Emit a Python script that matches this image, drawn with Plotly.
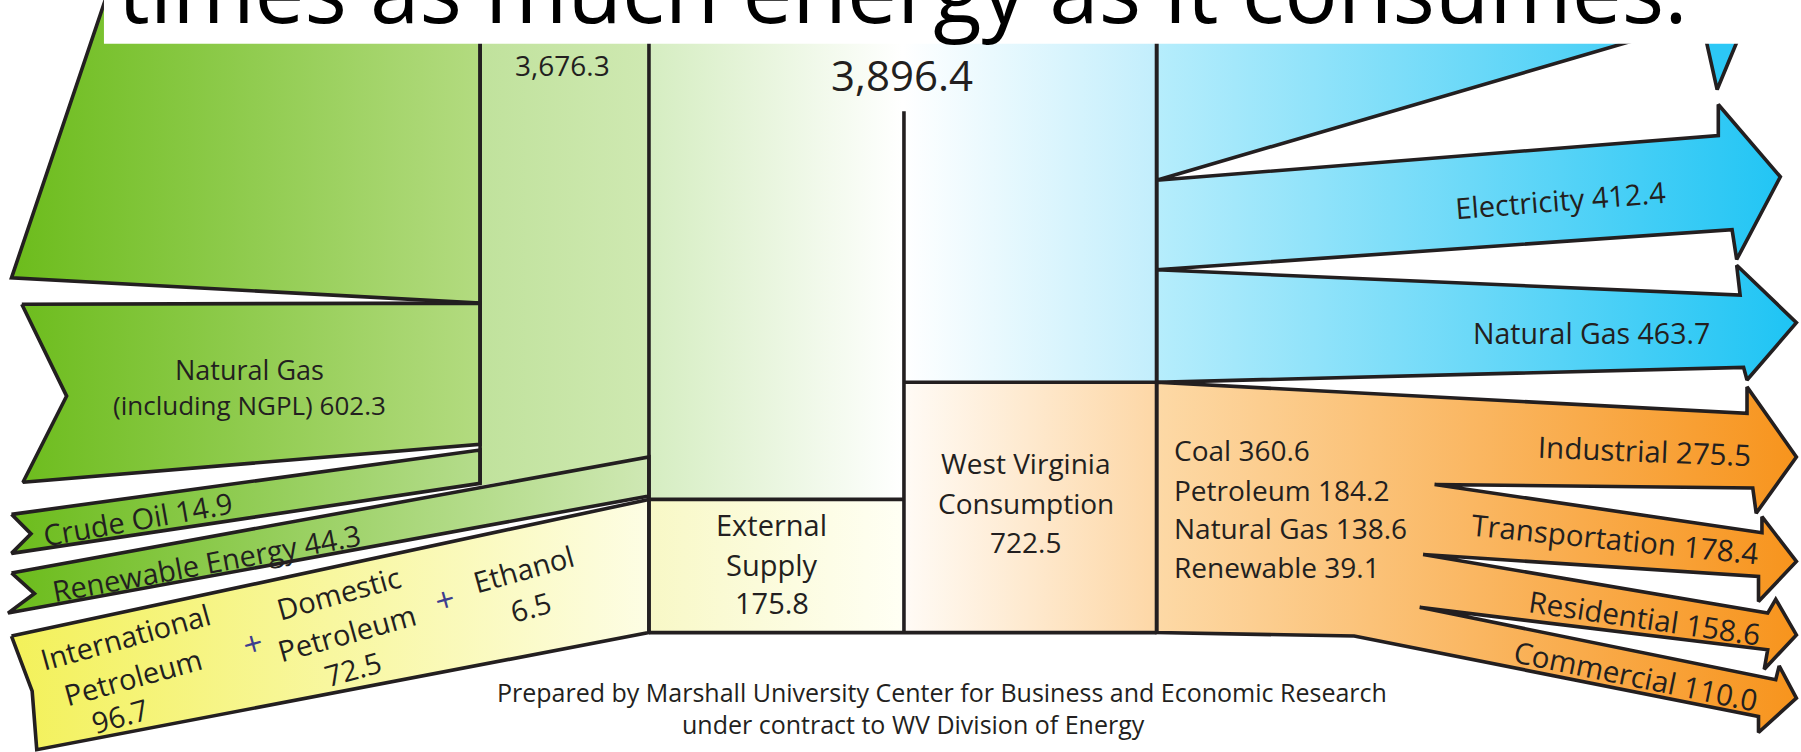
import plotly.graph_objects as go

# ---------------- data ----------------
title_text = "times as much energy as it consumes."
production_total = 3676.3
grand_total = 3896.4
production_labels = ["Natural Gas", "Crude Oil", "Renewable Energy"]
production_values = [602.3, 14.9, 44.3]
petroleum_labels = [["International", "Petroleum"], ["Domestic", "Petroleum"], ["Ethanol"]]
petroleum_values = [96.7, 72.5, 6.5]
external_supply = 175.8
consumption_total = 722.5
fuel_labels = ["Coal", "Petroleum", "Natural Gas", "Renewable"]
fuel_values = [360.6, 184.2, 138.6, 39.1]
export_labels = ["Electricity", "Natural Gas"]
export_values = [412.4, 463.7]
sector_labels = ["Industrial", "Transportation", "Residential", "Commercial"]
sector_values = [275.5, 178.4, 158.6, 110.0]
credit_lines = ["Prepared by Marshall University Center for Business and Economic Research",
                "under contract to WV Division of Energy"]


def fmt(v):
    return f"{v:,.1f}"


# ---------------- layout geometry (drawing units: 1568 x 655 canvas) ----------------
W, H = 1568, 655
INK = "#231f20"
LW = 3.6
FONT = "Open Sans"

fig = go.Figure()


def poly(pts, c0, c1, x0, x1, outline=True):
    xs = [p[0] for p in pts] + [pts[0][0]]
    ys = [p[1] for p in pts] + [pts[0][1]]
    fig.add_trace(go.Scatter(
        x=xs, y=ys, mode="lines", fill="toself",
        fillgradient=dict(type="horizontal", colorscale=[[0, c0], [1, c1]], start=x0, stop=x1),
        line=dict(color=INK if outline else "rgba(0,0,0,0)", width=LW if outline else 0),
        hoverinfo="skip", showlegend=False))


def seg(x0, y0, x1, y1):
    fig.add_trace(go.Scatter(x=[x0, x1], y=[y0, y1], mode="lines",
                             line=dict(color=INK, width=LW), hoverinfo="skip", showlegend=False))


# background columns
poly([(565, -10), (786, -10), (786, 435), (565, 435)], "#d5edc1", "#ffffff", 565, 786, False)
poly([(786, -10), (1007, -10), (1007, 333), (786, 333)], "#ffffff", "#c2eefc", 786, 1007, False)
poly([(786, 333), (1007, 333), (1007, 551), (786, 551)], "#fffbf6", "#fdd7a6", 786, 1007, False)
poly([(565, 435), (786, 435), (786, 551), (565, 551)], "#f8f8c6", "#fffff4", 565, 786, False)
poly([(418, -10), (565, -10), (565, 398), (418, 423)], "#c0e29c", "#cfe9b2", 418, 565, False)

# green supply arrows
poly([(95, -10), (418, -10), (418, 264), (10, 242)], "#6cbc1c", "#b3db80", 10, 418)
poly([(19, 265), (418, 264), (418, 387), (20, 420), (58, 345)], "#6cbc1c", "#b3db80", 10, 418)
poly([(10, 448), (418, 392), (418, 421), (10, 482), (27, 465)], "#6cbc1c", "#cfe8b4", 10, 565)
poly([(10, 499), (565, 398), (565, 432), (7, 534), (30, 517)], "#6cbc1c", "#cfe8b4", 10, 565)
# petroleum (yellow) arrow
poly([(10, 554), (565, 435), (565, 551), (32, 653), (28, 602)], "#f3f15a", "#fdfde4", 10, 565)

# blue export arrows
poly([(1007, -10), (1577, -10), (1007, 157), (1496, 118), (1496, 91), (1550, 154), (1512, 226),
      (1508, 200), (1007, 235), (1515, 257), (1512, 231), (1564, 281), (1521, 331), (1518, 320),
      (1007, 333)], "#b6edfc", "#1ec4f4", 1007, 1564)
poly([(1482, 20), (1495, 78), (1519, 20)], "#2cc8f6", "#2cc8f6", 1482, 1519)

# orange end-use arrows
poly([(1007, 333), (1521, 360), (1521, 337), (1564, 398), (1529, 447), (1526, 425), (1249, 422),
      (1534, 464), (1534, 450), (1564, 489), (1531, 524), (1531, 502), (1239, 483), (1539, 534),
      (1546, 522), (1564, 553), (1536, 583), (1539, 566), (1236, 529), (1546, 592), (1549, 580),
      (1564, 608), (1531, 638), (1531, 624), (1179, 554), (1007, 551)],
     "#fdd9a6", "#f7941d", 1007, 1564)

# column rules
seg(418, -10, 418, 421)
seg(565, -10, 565, 551)
seg(787, 97, 787, 551)
seg(1007, -10, 1007, 551)
seg(565, 435, 787, 435)
seg(787, 333, 1007, 333)
seg(565, 551, 1007, 551)

# white title band
fig.add_shape(type="rect", x0=90.5, x1=W + 20, y0=-20, y1=38, fillcolor="white",
              line=dict(width=0), layer="above")

anns = []


def txt(x, y, s, size=28, angle=0, xanchor="center", color=INK):
    anns.append(dict(x=x, y=y, xref="x", yref="y", text=s, showarrow=False,
                     font=dict(family=FONT, size=size, color=color),
                     textangle=angle, xanchor=xanchor, yanchor="middle"))


# title (mostly cropped at top, as in the source image)
anns.append(dict(x=786, y=44, xref="x", yref="y", text=title_text, showarrow=False,
                 font=dict(family=FONT, size=89, color="black"),
                 xanchor="center", yanchor="bottom"))

txt(490, 57, fmt(production_total), 28)
txt(785, 65, fmt(grand_total), 42)

txt(217, 322, production_labels[0], 27)
txt(217, 353, "(including NGPL) " + fmt(production_values[0]), 26)
txt(120, 452, f"{production_labels[1]} {fmt(production_values[1])}", 29, -10)
txt(180, 490, f"{production_labels[2]} {fmt(production_values[2])}", 29, -10.5)

# petroleum components
ang = -15.5
PS = 29
txt(109, 554, petroleum_labels[0][0], PS, ang)
txt(116, 589, petroleum_labels[0][1], PS, ang)
txt(104, 623, fmt(petroleum_values[0]), PS, ang)
txt(220, 560, "+", 34, ang, color="#3d3d8f")
txt(295, 516, petroleum_labels[1][0], PS, ang)
txt(302, 551, petroleum_labels[1][1], PS, ang)
txt(307, 582, fmt(petroleum_values[1]), PS, ang)
txt(387, 522, "+", 34, ang, color="#3d3d8f")
txt(456, 495, petroleum_labels[2][0], PS, ang)
txt(462, 528, fmt(petroleum_values[2]), PS, ang)

txt(672, 457, "External", 29)
txt(672, 492, "Supply", 29)
txt(672, 525, fmt(external_supply), 29)

txt(893, 403, "West Virginia", 28)
txt(893, 438, "Consumption", 28)
txt(893, 472, fmt(consumption_total), 28)

for i, (lab, v) in enumerate(zip(fuel_labels, fuel_values)):
    txt(1020, [392, 427, 460, 494][i], f"{lab} {fmt(v)}", 28, 0, "left")

txt(1359, 174, f"{export_labels[0]} {fmt(export_values[0])}", 29, -4.5)
txt(1386, 290, f"{export_labels[1]} {fmt(export_values[1])}", 28.5, 0)

sec_pos = [(1432, 392, 2.3), (1406, 469, 5.8), (1432, 538, 8.3), (1424, 588, 11.6)]
for (x, y, a), lab, v in zip(sec_pos, sector_labels, sector_values):
    txt(x, y, f"{lab} {fmt(v)}", 29.5, a)

txt(820, 603, credit_lines[0], 25)
txt(795, 631, credit_lines[1], 25)

fig.update_layout(
    width=1801, height=752, margin=dict(l=0, r=0, t=0, b=0),
    paper_bgcolor="white", plot_bgcolor="white",
    xaxis=dict(range=[0, W], visible=False, fixedrange=True),
    yaxis=dict(range=[H, 0], visible=False, fixedrange=True),
    annotations=anns, showlegend=False,
)

fig.write_html("out.html", config={"displayModeBar": False},
               post_script="document.body.style.margin='0';document.body.style.overflow='hidden';")
